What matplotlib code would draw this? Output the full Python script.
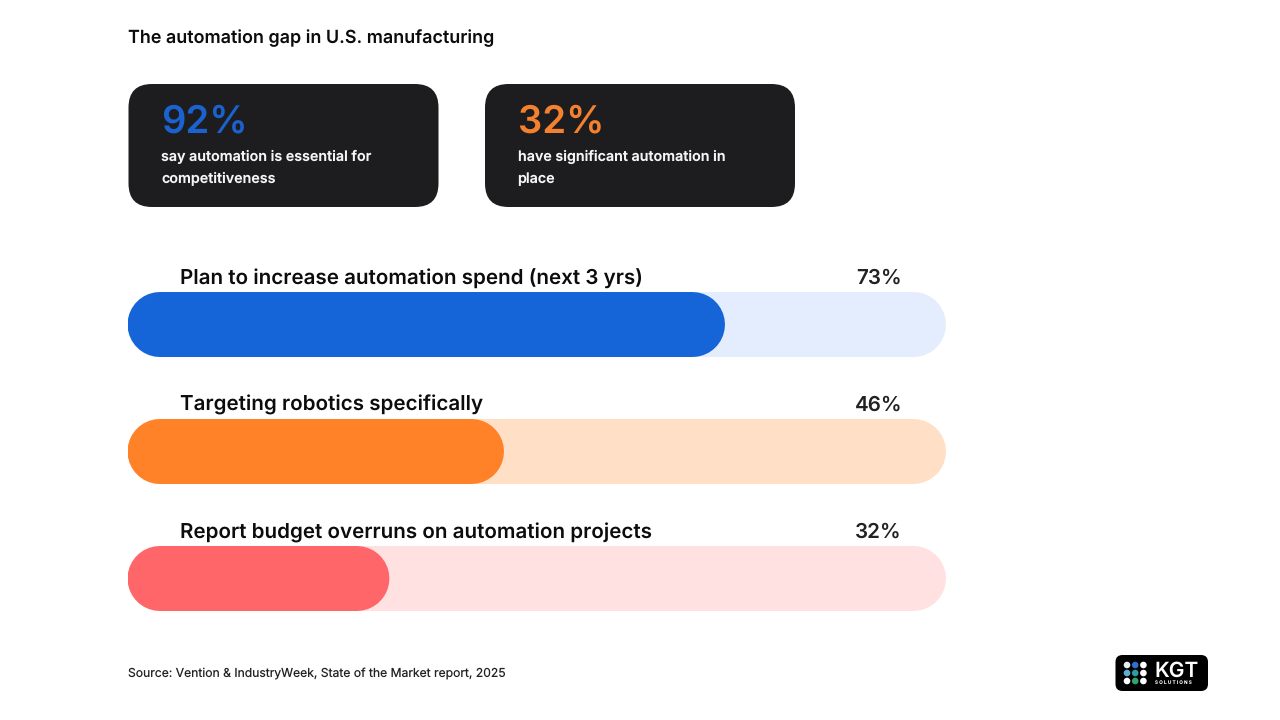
import matplotlib
matplotlib.use('Agg')
import matplotlib.pyplot as plt
from matplotlib.patches import FancyBboxPatch, Circle

labels = ['Plan to increase automation spend (next 3 yrs)', 'Targeting robotics specifically',
          'Report budget overruns on automation projects']
values = [73, 46, 32]
bar_colors = ['#1565D8', '#FF8128', '#FF666A']
track_colors = ['#E3EDFD', '#FFDFC6', '#FFE1E1']
card_values = ['92%', '32%']
card_colors = ['#1A62D0', '#F5812F']
card_texts = ['say automation is essential for\ncompetitiveness', 'have significant automation in\nplace']
title = 'The automation gap in U.S. manufacturing'
source = 'Source: Vention & IndustryWeek, State of the Market report, 2025'

plt.rcParams['font.family'] = ['Inter', 'DejaVu Sans']
plt.rcParams['text.hinting'] = 'no_hinting'

fig = plt.figure(figsize=(12.8, 7.2), dpi=100, facecolor='white')

# page layer in pixel coords, for the cards and the text
page = fig.add_axes([0, 0, 1, 1])
page.set_xlim(0, 1280)
page.set_ylim(720, 0)
page.axis('off')


def px(size):
    return size * 0.72


def round_box(ax, x, y, w, h, r, color, z=2):
    ax.add_patch(FancyBboxPatch((x, y), w, h, boxstyle=f'round,pad=0,rounding_size={r}',
                                fc=color, ec='none', zorder=z))


page.text(128, 38.5, title, fontsize=px(17.95), fontweight='semibold', color='#0c0c0c', va='center')

for i, left in enumerate([128.5, 485]):
    round_box(page, left, 84, 310, 123, 23.5, '#1D1D1F')
    page.text(left + 33, 123, card_values[i], fontsize=px(38.2), fontweight='semibold',
              color=card_colors[i], va='center')
    line1, line2 = card_texts[i].split('\n')
    page.text(left + 32.5, 157, line1, fontsize=px(14.3), fontweight='semibold', color='#F5F5F5', va='center')
    page.text(left + 32.5, 179, line2, fontsize=px(14.3), fontweight='semibold', color='#F5F5F5', va='center')

# bars on their own axes, x is percent, thick round-capped lines give the pill ends
bar_h = 65
cap = bar_h / 2 / 8.18
ax = fig.add_axes([127.5 / 1280, 1 - 611 / 720, 818.5 / 1280, 319 / 720])
ax.set_xlim(0, 100)
ax.set_ylim(2.256, -0.256)
ax.axis('off')
ax.patch.set_alpha(0)
for i, v in enumerate(values):
    ax.plot([cap, 100 - cap], [i, i], lw=px(bar_h), color=track_colors[i], solid_capstyle='round',
            zorder=2, snap=False)
    ax.plot([cap, v - cap], [i, i], lw=px(bar_h), color=bar_colors[i], solid_capstyle='round',
            zorder=3, snap=False)

for y, lab, v in zip([278.5, 405, 532.5], labels, values):
    page.text(180, y, lab, fontsize=px(20.6), fontweight='semibold', color='#0c0c0c', va='center')
    page.text(902, y, f'{v}%', fontsize=px(20.6), fontweight='semibold', color='#222222', va='center', ha='right')

page.text(128, 674, source, fontsize=px(12.15), color='#222222', va='center')

# logo
round_box(page, 1115.5, 655, 92.5, 36, 7, '#000000')
dot_colors = ['#E8EEF8', '#2F6FD0', '#FFFFFF', '#5FB0D0', '#2A9DA5', '#FFFFFF', '#FFFFFF', '#2FA570', '#FFFFFF']
for n, c in enumerate(dot_colors):
    page.add_patch(Circle((1127 + (n % 3) * 8.2, 665 + (n // 3) * 8), 3.3, fc=c, ec='none', zorder=4))
page.text(1154, 671, 'KGT', fontsize=px(21), fontweight='semibold', color='white', va='center', zorder=4)
page.text(1155, 683, 'S O L U T I O N S', fontsize=px(4.6), color='white', va='center', zorder=4)

fig.savefig('out.png', dpi=100)
